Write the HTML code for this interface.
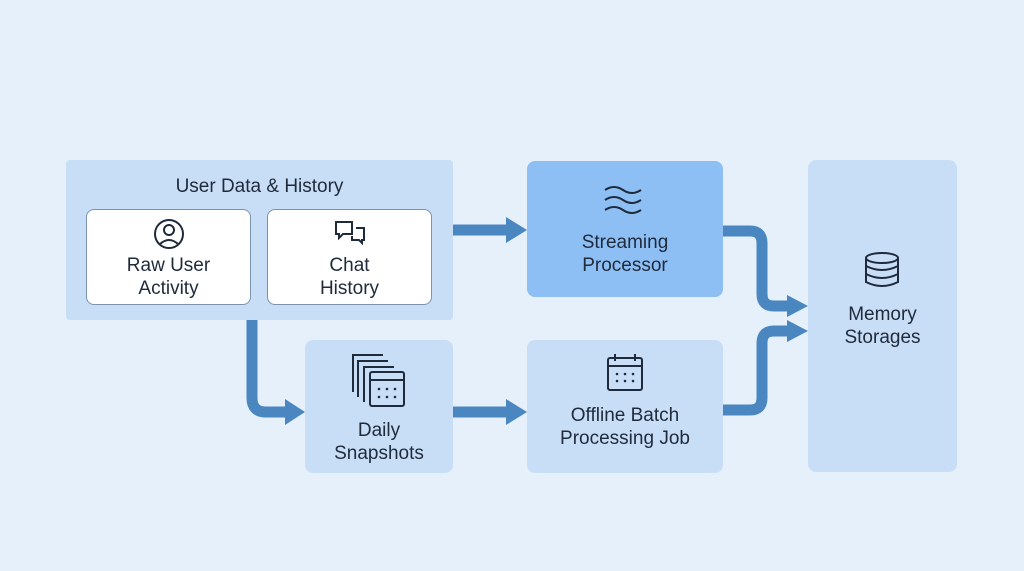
<!DOCTYPE html>
<html><head><style>
body{margin:0;width:1024px;height:571px;background:#e6f0fb;font-family:"Liberation Sans",sans-serif;color:#1f2a3a;position:relative;overflow:hidden}
.b{position:absolute;border-radius:8px;box-sizing:border-box;text-align:center}
.t{position:absolute;width:100%;left:0;font-size:19px;line-height:23px;text-align:center}
</style></head><body>
<div class="b" style="left:66px;top:160px;width:387px;height:160px;background:#c8def7;border-radius:4px"></div>
<div class="t" style="left:66px;width:387px;top:175px;font-size:19px">User Data &amp; History</div>
<div class="b" style="left:86px;top:209px;width:165px;height:96px;background:#fff;border:1px solid #7c93ad"></div>
<div class="b" style="left:267px;top:209px;width:165px;height:96px;background:#fff;border:1px solid #7c93ad"></div>
<div class="t" style="left:86px;width:165px;top:254px">Raw User<br>Activity</div>
<div class="t" style="left:267px;width:165px;top:254px">Chat<br>History</div>
<div class="b" style="left:527px;top:161px;width:196px;height:136px;background:#8dbff5"></div>
<div class="t" style="left:527px;width:196px;top:231px">Streaming<br>Processor</div>
<div class="b" style="left:305px;top:340px;width:148px;height:133px;background:#c8def7"></div>
<div class="t" style="left:305px;width:148px;top:419px">Daily<br>Snapshots</div>
<div class="b" style="left:527px;top:340px;width:196px;height:133px;background:#c8def7"></div>
<div class="t" style="left:527px;width:196px;top:404px">Offline Batch<br>Processing Job</div>
<div class="b" style="left:808px;top:160px;width:149px;height:312px;background:#c8def7"></div>
<div class="t" style="left:808px;width:149px;top:303px">Memory<br>Storages</div>
<svg width="1024" height="571" style="position:absolute;left:0;top:0" fill="none">
<g stroke="#4a86c0" stroke-width="11">
<path d="M453 230H510"/>
<path d="M252 320V398Q252 412 266 412H288"/>
<path d="M453 412H510"/>
<path d="M723 231H750Q762 231 762 243V294Q762 306 774 306H790"/>
<path d="M723 410H750Q762 410 762 398V343Q762 331 774 331H790"/>
</g>
<g fill="#4a86c0">
<path d="M506 217L527 230L506 243Z"/>
<path d="M285 399L305 412L285 425Z"/>
<path d="M506 399L527 412L506 425Z"/>
<path d="M787 295L808 306L787 317Z"/>
<path d="M787 320L808 331L787 342Z"/>
</g>
<g stroke="#1f2a3a" stroke-width="2">
<circle cx="169" cy="234" r="14"/><circle cx="169" cy="230" r="5"/><path d="M160 244Q169 236 178 244"/>
<path d="M336 222h16v12h-9l-4 4v-4h-3z"/><path d="M356 228h8v12h-2v3l-3-3h-7v-4"/>
<path d="M605 190q9-6 18 0t18 0M605 200q9-6 18 0t18 0M605 210q9-6 18 0t18 0"/>
<rect x="608" y="358" width="34" height="32" rx="2"/><path d="M608 366h34M615 354v7M635 354v7"/>
<rect x="370" y="372" width="34" height="34" rx="2"/><path d="M370 380h34"/>
<path d="M353 392V355h30M358 397V361h30M364 402V367h30"/>
<ellipse cx="882" cy="258" rx="16" ry="5"/><path d="M866 258v24q16 8 32 0v-24M866 266q16 8 32 0M866 274q16 8 32 0"/>
</g>
<g fill="#1f2a3a"><circle cx="617" cy="374" r="1.3"/><circle cx="625" cy="374" r="1.3"/><circle cx="633" cy="374" r="1.3"/><circle cx="617" cy="381" r="1.3"/><circle cx="625" cy="381" r="1.3"/><circle cx="633" cy="381" r="1.3"/>
<circle cx="379" cy="389" r="1.3"/><circle cx="387" cy="389" r="1.3"/><circle cx="395" cy="389" r="1.3"/><circle cx="379" cy="397" r="1.3"/><circle cx="387" cy="397" r="1.3"/><circle cx="395" cy="397" r="1.3"/></g>
</svg>
</body></html>
